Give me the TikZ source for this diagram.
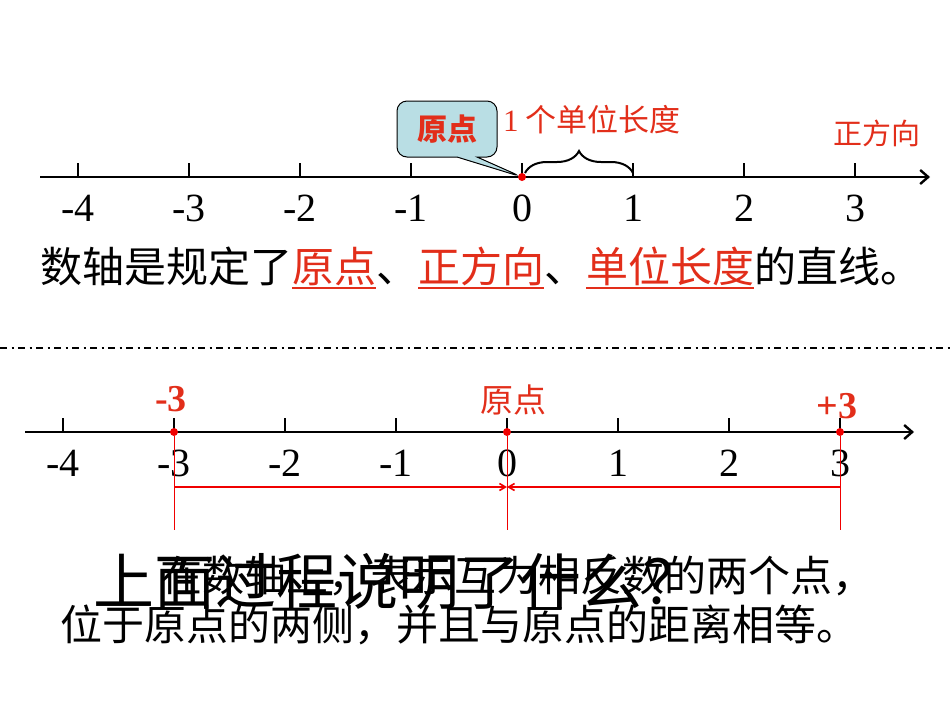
\documentclass[tikz,border=0pt]{standalone}
\usepackage{fontspec}
\setmainfont{Liberation Serif}
\newfontfamily\cjk{Noto Sans CJK SC}
\usepackage{tikz}
\usetikzlibrary{arrows.meta,positioning,shapes.callouts,decorations.pathreplacing}
\definecolor{axred}{RGB}{226,46,26}
\definecolor{dotred}{RGB}{240,0,0}
\definecolor{calloutblue}{RGB}{185,222,228}
\newcommand{\fsz}[1]{\fontsize{#1}{#1}\selectfont}
\newcommand{\redul}[1]{\textcolor{axred}{\setbox0\hbox{#1}\rlap{\rule[-6pt]{\wd0}{1.8pt}}\box0}}

\begin{document}
\begin{tikzpicture}[
            x=1pt, y=-1pt,
            font=\cjk,
            axis/.style={line width=2.4pt, -{Straight Barb[length=8pt,width=14pt,line width=2.4pt]}},
            tickmark/.style={line width=2pt},
            num/.style={font=\rmfamily\fsz{40}, anchor=base, inner sep=0pt},
            dot/.style={circle, fill=dotred, inner sep=0pt, minimum size=8pt},
            redlbl/.style={text=axred, inner sep=0pt, font=\cjk\fsz{31}},
            bignum/.style={text=axred, inner sep=0pt, font=\rmfamily\bfseries\fsz{38}},
            callbox/.style={rectangle callout, rounded corners=10pt, draw, line width=1pt,
            fill=calloutblue, minimum width=100pt, minimum height=56pt, text=axred,
            font=\cjk\bfseries\fsz{30}, callout pointer width=20pt},
            sep/.style={line width=2.6pt, dash pattern=on 7pt off 4.5pt on 2pt off 4.5pt},
            guide/.style={draw=dotred, line width=0.9pt},
            dist/.style={draw=dotred, line width=1.6pt, -{Straight Barb[length=6pt,width=7pt]}},
            sent/.style={inner sep=0pt, anchor=west, font=\cjk\fsz{42}}
        ]
\useasboundingbox (0,0) rectangle (950,713);

% --- top axis ---
            \coordinate (ta0) at (40,177);
            \coordinate (ta1) at (930,177);
            \draw[axis] (ta0) -- (ta1);
            \foreach \v [count=\k] in {-4,...,3} {
                \coordinate (u\k) at ({522+111*\v},177);
                \draw[tickmark] (u\k) -- ++(0,-14);
                \node[num] (un\k) at ({522+111*\v},221) {\v};
            }
            \node[dot] (o1) at (u5) {};

% --- origin callout and unit length ---
            \node[callbox, callout absolute pointer=(o1)] (cb) at (447,129) {原点};
            \coordinate (br0) at (525,173);
            \coordinate (br1) at (633,173);
            \draw[decorate, decoration={brace, amplitude=22pt}, line width=2pt] (br0) -- (br1);
            \node[redlbl, anchor=west] (unit) at (503,120) {{\rmfamily 1} 个单位长度};
            \node[redlbl, font=\cjk\fsz{29}] (dir) at (877,133) {正方向};

% --- definition sentence ---
            \node[sent] (def) at (40,268)
                {数轴是规定了\redul{原点}、\redul{正方向}、\redul{单位长度}的直线。};

% --- separator ---
            \coordinate (s0) at (0,348);
            \coordinate (s1) at (950,348);
            \draw[sep] (s0) -- (s1);

% --- bottom axis ---
            \coordinate (ba0) at (25,432);
            \coordinate (ba1) at (914,432);
            \draw[axis] (ba0) -- (ba1);
            \foreach \v [count=\k] in {-4,...,3} {
                \coordinate (l\k) at ({507+111*\v},432);
                \draw[tickmark] (l\k) -- ++(0,-14);
                \node[num] (ln\k) at ({507+111*\v},476) {\v};
            }
            \node[dot] (p2) at (l2) {};
            \node[dot] (p5) at (l5) {};
            \node[dot] (p8) at (l8) {};
            \node[bignum] (neg) at (171,399) {-3};
            \node[redlbl, font=\cjk\fsz{33}] (orig) at (513,400) {原点};
            \node[bignum] (pos) at (837,406) {+3};

% distance guides
            \coordinate (g2) at (174,530);
            \coordinate (g5) at (507,530);
            \coordinate (g8) at (840,530);
            \draw[guide] (p2) -- (g2);
            \draw[guide] (p5) -- (g5);
            \draw[guide] (p8) -- (g8);
            \coordinate (m2) at (174,487);
            \coordinate (m5) at (507,487);
            \coordinate (m8) at (840,487);
            \draw[dist] (m2) -- (m5);
            \draw[dist] (m8) -- (m5);

% --- overlapping texts ---
            \node[inner sep=0pt, font=\cjk\fsz{61}] (ask) at (398,582) {上面过程说明了什么？};
            \node[sent] (res1) at (160,576) {在数轴上，表示互为相反数的两个点，};
            \node[sent] (res2) at (60,625) {位于原点的两侧，并且与原点的距离相等。};
        \end{tikzpicture}
\end{document}
